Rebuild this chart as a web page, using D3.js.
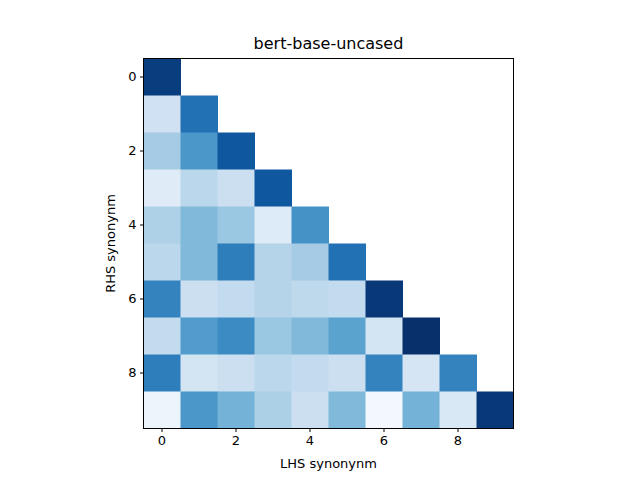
<!DOCTYPE html>
<html><head><meta charset="utf-8">
<script src="https://cdnjs.cloudflare.com/ajax/libs/d3/7.8.5/d3.min.js"></script>
<style>body{margin:0;background:#fff}text{font-family:"DejaVu Sans",sans-serif}</style>
</head><body>
<script>
// lower-triangle similarity values, row = RHS synonym, col = LHS synonym
let rows = [
  [0.95],
  [0.2, 0.75],
  [0.35, 0.6, 0.85],
  [0.12, 0.28, 0.22, 0.85],
  [0.32, 0.45, 0.38, 0.13, 0.62],
  [0.28, 0.45, 0.7, 0.3, 0.35, 0.75],
  [0.68, 0.22, 0.25, 0.3, 0.27, 0.25, 0.97],
  [0.25, 0.58, 0.65, 0.38, 0.45, 0.55, 0.18, 1.0],
  [0.7, 0.18, 0.22, 0.28, 0.25, 0.22, 0.68, 0.17, 0.68],
  [0.05, 0.6, 0.48, 0.33, 0.22, 0.45, 0.02, 0.48, 0.15, 0.97]
]
let ticks = [0, 2, 4, 6, 8]
let n = 10

let plotLeft = 143.5, plotTop = 58.5, size = 370

let svg = d3.select("body").append("svg").attr("width", 640).attr("height", 480)

let x = d3.scaleBand().domain(d3.range(n)).range([plotLeft, plotLeft + size])
let y = d3.scaleBand().domain(d3.range(n)).range([plotTop, plotTop + size])
let color = d3.scaleSequential(d3.interpolateBlues).domain([0, 1])

let cells = []
rows.forEach((r, i) => r.forEach((v, j) => cells.push({ i, j, v })))

svg.append("g").selectAll("rect").data(cells).enter().append("rect")
    .attr("x", d => x(d.j)).attr("y", d => y(d.i))
    .attr("width", x.bandwidth() + 0.5).attr("height", y.bandwidth() + 0.5)
    .attr("fill", d => color(d.v))

svg.append("rect").attr("x", plotLeft).attr("y", plotTop).attr("width", size).attr("height", size)
    .attr("fill", "none").attr("stroke", "#000").attr("stroke-width", 1)

let xAxis = svg.append("g").attr("transform", `translate(0,${plotTop + size})`)
    .call(d3.axisBottom(x).tickValues(ticks).tickSize(3.5).tickPadding(3.5))
let yAxis = svg.append("g").attr("transform", `translate(${plotLeft},0)`)
    .call(d3.axisLeft(y).tickValues(ticks).tickSize(3.5).tickPadding(3.5))
;[xAxis, yAxis].forEach(a => {
    a.select(".domain").remove()
    a.selectAll("text").attr("font-size", 13).attr("font-family", "DejaVu Sans").attr("fill", "#000")
})

svg.append("text").attr("x", plotLeft + size / 2).attr("y", 49).attr("text-anchor", "middle")
    .attr("font-size", 16).text("bert-base-uncased")
svg.append("text").attr("x", plotLeft + size / 2).attr("y", 468).attr("text-anchor", "middle")
    .attr("font-size", 13).text("LHS synonynm")
svg.append("text").attr("transform", `translate(115,${plotTop + size / 2}) rotate(-90)`)
    .attr("text-anchor", "middle").attr("font-size", 13).text("RHS synonynm")
</script>
</body></html>
